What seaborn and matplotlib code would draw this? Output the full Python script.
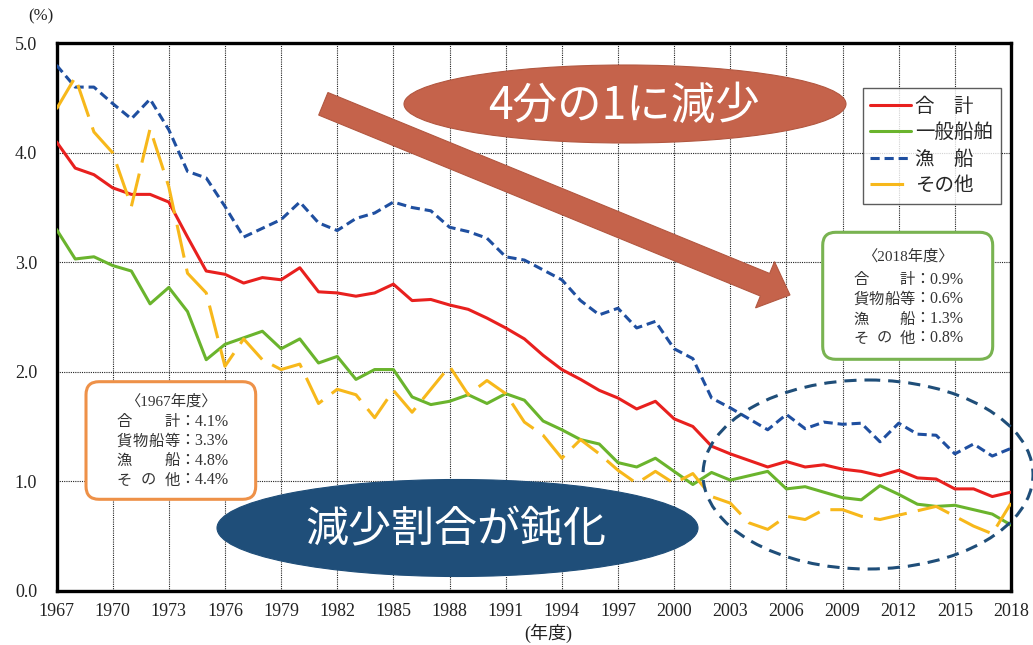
import numpy as np
import pandas as pd
import matplotlib
matplotlib.use("Agg")
import matplotlib.pyplot as plt
import seaborn as sns
from matplotlib.patches import Ellipse, Polygon, FancyBboxPatch
from matplotlib.transforms import Affine2D
from matplotlib.lines import Line2D

# ---- data: accident rate by ship type (%) ----
years = list(range(1967, 2019))
total = [4.1, 3.86, 3.80, 3.68, 3.62, 3.62, 3.55, 3.23, 2.92, 2.89,
         2.81, 2.86, 2.84, 2.95, 2.73, 2.72, 2.69, 2.72, 2.80, 2.65,
         2.66, 2.61, 2.57, 2.49, 2.40, 2.30, 2.15, 2.02, 1.93, 1.83,
         1.76, 1.66, 1.73, 1.57, 1.50, 1.32, 1.25, 1.19, 1.13, 1.18,
         1.13, 1.15, 1.11, 1.09, 1.05, 1.10, 1.03, 1.02, 0.93, 0.93,
         0.86, 0.9]
general = [3.3, 3.03, 3.05, 2.97, 2.92, 2.62, 2.77, 2.55, 2.11, 2.25,
           2.31, 2.37, 2.21, 2.30, 2.08, 2.14, 1.93, 2.02, 2.02, 1.77,
           1.70, 1.73, 1.79, 1.71, 1.80, 1.74, 1.55, 1.47, 1.38, 1.34,
           1.17, 1.13, 1.21, 1.09, 0.97, 1.08, 1.01, 1.05, 1.09, 0.93,
           0.95, 0.90, 0.85, 0.83, 0.96, 0.88, 0.79, 0.77, 0.78, 0.74,
           0.70, 0.6]
fishing = [4.8, 4.60, 4.60, 4.45, 4.31, 4.49, 4.21, 3.83, 3.77, 3.51,
           3.23, 3.31, 3.39, 3.55, 3.36, 3.29, 3.40, 3.45, 3.55, 3.50,
           3.47, 3.32, 3.28, 3.22, 3.05, 3.02, 2.93, 2.84, 2.65, 2.52,
           2.58, 2.40, 2.46, 2.21, 2.12, 1.76, 1.67, 1.57, 1.47, 1.61,
           1.48, 1.54, 1.52, 1.53, 1.36, 1.53, 1.43, 1.42, 1.25, 1.34,
           1.23, 1.3]
other = [4.4, 4.69, 4.19, 4.00, 3.51, 4.22, 3.69, 2.90, 2.72, 2.05,
         2.30, 2.11, 2.02, 2.07, 1.71, 1.84, 1.79, 1.58, 1.83, 1.63,
         1.84, 2.05, 1.79, 1.92, 1.80, 1.54, 1.42, 1.21, 1.38, 1.25,
         1.10, 0.98, 1.09, 0.98, 1.07, 0.86, 0.80, 0.62, 0.56, 0.68,
         0.65, 0.74, 0.74, 0.68, 0.65, 0.69, 0.73, 0.77, 0.68, 0.59,
         0.52, 0.8]

series_names = ["合　計", "一般船舶", "漁　船", "その他"]
box_labels = ["合計", "貨物船等", "漁船", "その他"]
series_colors = ["#E8201E", "#6AB42D", "#1F4FA0", "#F7B81B"]
series_dashes = ["", "", (3.0, 1.6), (11.0, 3.7)]
x_ticks = list(range(1967, 2019, 3))
y_ticks = [0.0, 1.0, 2.0, 3.0, 4.0, 5.0]

# ---- style ----
sns.set_style("white")
plt.rcParams["font.family"] = ["Liberation Serif", "Noto Sans CJK JP"]
CJK = ["Noto Sans CJK JP", "DejaVu Sans"]

W, H = 1033, 645
fig = plt.figure(figsize=(W / 100, H / 100), dpi=100)
fig.patch.set_facecolor("white")
L, R, T, B = 56.5, 1011.0, 43.3, 590.7
ax = fig.add_axes([L / W, 1 - B / H, (R - L) / W, (B - T) / H])

df = pd.DataFrame({
    "年度": years * 4,
    "率": total + general + fishing + other,
    "区分": [n for n in series_names for _ in years],
})
sns.lineplot(data=df, x="年度", y="率", hue="区分", style="区分",
             hue_order=series_names, style_order=series_names,
             palette=dict(zip(series_names, series_colors)),
             dashes=dict(zip(series_names, series_dashes)),
             linewidth=2.2, legend=False, ax=ax, zorder=3)

ax.set_xlim(1967, 2018)
ax.set_ylim(0, 5)
ax.set_xticks(x_ticks)
ax.set_xticklabels([str(y) for y in x_ticks])
ax.set_yticks(y_ticks)
ax.set_yticklabels([f"{v:.1f}" for v in y_ticks])
ax.set_xlabel("")
ax.set_ylabel("")
ax.grid(True, color="#222222", linestyle=(0, (1, 1)), linewidth=0.8)
ax.tick_params(axis="both", length=0, labelsize=13, colors="#222222")
ax.tick_params(axis="x", pad=9)
ax.tick_params(axis="y", pad=14)
for sp in ax.spines.values():
    sp.set_visible(True)
    sp.set_color("black")
    sp.set_linewidth(2.4)

# legend
handles = [Line2D([0], [0], color=c, lw=2.2,
                  linestyle="-" if d == "" else (0, d))
           for c, d in zip(series_colors, series_dashes)]
leg = ax.legend(handles, series_names, loc="upper right",
                bbox_to_anchor=(0.9895, 0.9183), borderaxespad=0,
                prop={"family": CJK, "size": 14}, frameon=True,
                fancybox=False, handlelength=2.1, handletextpad=0.2,
                labelspacing=0.28, borderpad=0.4)
leg.get_frame().set_edgecolor("#333333")
leg.get_frame().set_linewidth(1.0)
leg.set_zorder(6)

fig.text(41 / W, 1 - 16 / H, "(%)", ha="center", va="center", fontsize=12,
         color="#222222")
fig.text(548 / W, 1 - 633 / H, "(年度)", ha="center", va="center",
         fontsize=13, color="#222222")

# pixel coordinates, origin top-left
px = Affine2D().scale(1, -1).translate(0, H)

# downward arrow
tail = np.array([323.3, 103.8])
tip = np.array([790.0, 295.0])
d = (tip - tail) / np.linalg.norm(tip - tail)
n = np.array([-d[1], d[0]])
base = tip - d * 27
sw, hw = 12.2, 25.0
verts = [tail + n * sw, base + n * sw, base + n * hw, tip,
         base - n * hw, base - n * sw, tail - n * sw]
fig.add_artist(Polygon(verts, closed=True, facecolor="#C5634B",
                       edgecolor="#B25740", lw=0.8, transform=px, zorder=4))

# headline ellipses
fig.add_artist(Ellipse((625, 104), 442, 78, facecolor="#C5634B",
                       edgecolor="#B25740", lw=0.8, transform=px, zorder=4))
fig.text(624 / W, 1 - 106 / H, "4分の1に減少", ha="center", va="center",
         fontsize=32, color="white", family=CJK, zorder=5)

fig.add_artist(Ellipse((457.5, 528), 481, 97, facecolor="#1F4E79",
                       edgecolor="#1F4E79", lw=0.8, transform=px, zorder=4))
fig.text(456 / W, 1 - 530 / H, "減少割合が鈍化", ha="center", va="center",
         fontsize=31, color="white", family=CJK, zorder=5)

fig.add_artist(Ellipse((868, 474.5), 330, 189, facecolor="none",
                       edgecolor="#1F4E79", lw=2.2, linestyle=(0, (4, 2.6)),
                       transform=px, zorder=4))


def summary_box(x0, y0, x1, y1, edge, title, title_y, rows_y, lab_x0,
                lab_x1, values):
    fig.add_artist(FancyBboxPatch((x0, y0), x1 - x0, y1 - y0,
                                  boxstyle="round,pad=0,rounding_size=13",
                                  facecolor="white", edgecolor=edge, lw=2.2,
                                  transform=px, zorder=4))
    fs = 11
    fig.text((x0 + x1) / 2 / W, 1 - title_y / H, title, ha="center",
             va="center", fontsize=fs, color="#333333", zorder=5)
    cw = 15.2
    for lab, yy, v in zip(box_labels, rows_y, values):
        k = len(lab)
        centers = np.linspace(lab_x0 + cw / 2, lab_x1 - cw / 2, k)
        for ch, cx in zip(lab, centers):
            fig.text(cx / W, 1 - yy / H, ch, ha="center", va="center",
                     fontsize=fs, color="#333333", family=CJK, zorder=5)
        fig.text((lab_x1 - 1) / W, 1 - yy / H, f"：{v:.1f}%", ha="left",
                 va="center", fontsize=fs + 0.5, color="#333333", zorder=5)


first = [total[0], general[0], fishing[0], other[0]]
last = [total[-1], general[-1], fishing[-1], other[-1]]
summary_box(86, 381.7, 255.7, 499.3, "#EE9148", f"〈{years[0]}年度〉", 401.7,
            [421.7, 441.2, 460.8, 480.3], 116.7, 180.0, first)
summary_box(822.7, 232.3, 992.7, 359.3, "#79B351", f"〈{years[-1]}年度〉", 256.0,
            [279.5, 299.3, 319.0, 338.5], 853.3, 915.0, last)

fig.savefig("out.png", dpi=100, facecolor="white")
